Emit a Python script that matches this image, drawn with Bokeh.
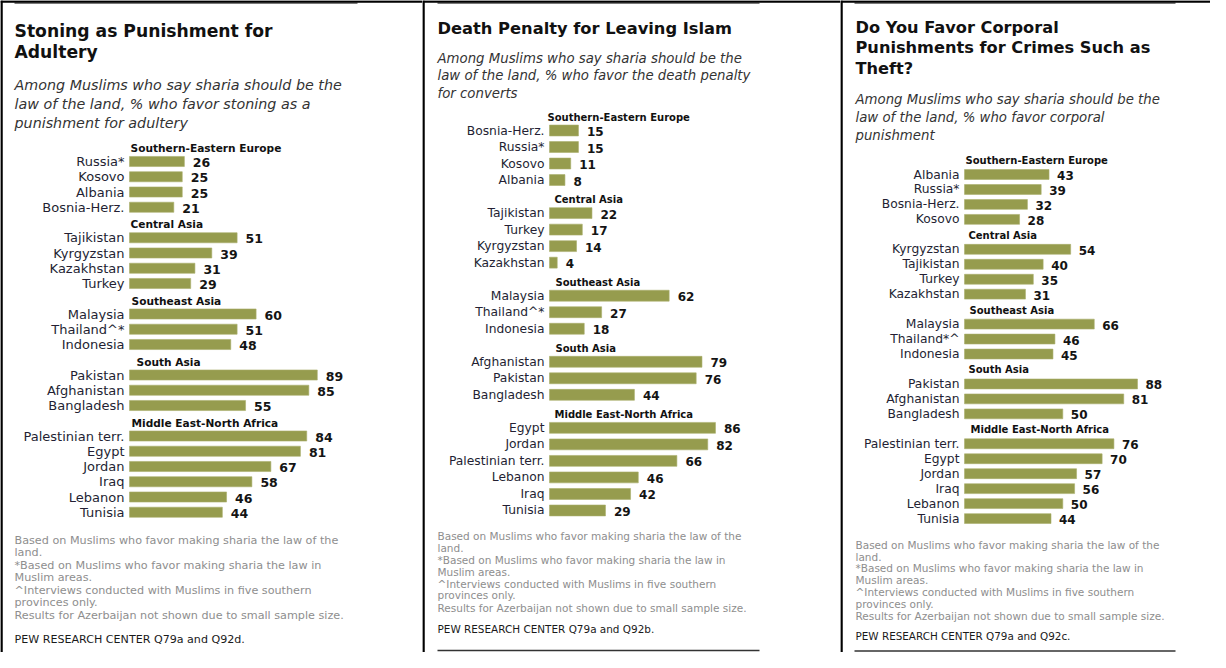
import numpy as np
from bokeh.plotting import figure
from bokeh.layouts import row
from bokeh.models import Range1d, Span
from bokeh.core.properties import value
from bokeh.embed import file_html
from bokeh.resources import INLINE

# ---------------- data ----------------
group_names = ["Southern-Eastern Europe", "Central Asia", "Southeast Asia",
               "South Asia", "Middle East-North Africa"]
group_sizes = [4, 4, 3, 3, 6]

stoning_countries = ["Russia*", "Kosovo", "Albania", "Bosnia-Herz.",
                     "Tajikistan", "Kyrgyzstan", "Kazakhstan", "Turkey",
                     "Malaysia", "Thailand^*", "Indonesia",
                     "Pakistan", "Afghanistan", "Bangladesh",
                     "Palestinian terr.", "Egypt", "Jordan", "Iraq", "Lebanon", "Tunisia"]
stoning_values = [26, 25, 25, 21, 51, 39, 31, 29, 60, 51, 48, 89, 85, 55,
                  84, 81, 67, 58, 46, 44]

death_countries = ["Bosnia-Herz.", "Russia*", "Kosovo", "Albania",
                   "Tajikistan", "Turkey", "Kyrgyzstan", "Kazakhstan",
                   "Malaysia", "Thailand^*", "Indonesia",
                   "Afghanistan", "Pakistan", "Bangladesh",
                   "Egypt", "Jordan", "Palestinian terr.", "Lebanon", "Iraq", "Tunisia"]
death_values = [15, 15, 11, 8, 22, 17, 14, 4, 62, 27, 18, 79, 76, 44,
                86, 82, 66, 46, 42, 29]

corporal_countries = ["Albania", "Russia*", "Bosnia-Herz.", "Kosovo",
                      "Kyrgyzstan", "Tajikistan", "Turkey", "Kazakhstan",
                      "Malaysia", "Thailand*^", "Indonesia",
                      "Pakistan", "Afghanistan", "Bangladesh",
                      "Palestinian terr.", "Egypt", "Jordan", "Iraq", "Lebanon", "Tunisia"]
corporal_values = [43, 39, 32, 28, 54, 40, 35, 31, 66, 46, 45, 88, 81, 50,
                   76, 70, 57, 56, 50, 44]

stoning_title = ["Stoning as Punishment for", "Adultery"]
stoning_subtitle = ["Among Muslims who say sharia should be the",
                    "law of the land, % who favor stoning as a",
                    "punishment for adultery"]
death_title = ["Death Penalty for Leaving Islam"]
death_subtitle = ["Among Muslims who say sharia should be the",
                  "law of the land, % who favor the death penalty",
                  "for converts"]
corporal_title = ["Do You Favor Corporal", "Punishments for Crimes Such as", "Theft?"]
corporal_subtitle = ["Among Muslims who say sharia should be the",
                     "law of the land, % who favor corporal",
                     "punishment"]

footnotes = ["Based on Muslims who favor making sharia the law of the",
             "land.",
             "*Based on Muslims who favor making sharia the law in",
             "Muslim areas.",
             "^Interviews conducted with Muslims in five southern",
             "provinces only.",
             "Results for Azerbaijan not shown due to small sample size."]

stoning_source = "PEW RESEARCH CENTER Q79a and Q92d."
death_source = "PEW RESEARCH CENTER Q79a and Q92b."
corporal_source = "PEW RESEARCH CENTER Q79a and Q92c."

# ---------------- styling / layout ----------------
FONT = value("DejaVu Sans")
BAR = "#969c4e"
H = 652

cfg1 = dict(left=8, width=422, bar0=137, scale=2.11, row0=169, pitch=15.25, hdr_gap=13.5,
            text_x=22, title_y=[38, 59], title_size=17.2, sub_y=[92, 111, 130], sub_size=14.3,
            hdr_size=10.6, hdr_dx=[1, 1, 2, 7, 2], label_size=13, value_size=12.5, vgap=8.5,
            foot_y=[548, 560, 573, 585, 598, 610, 623], foot_size=11.2, src_y=647, src_size=11.1,
            gray=(22, 365), bottom=None)
cfg2 = dict(left=430, width=418, bar0=557, scale=1.93, row0=138, pitch=16.52, hdr_gap=13.5,
            text_x=445, title_y=[36], title_size=16.3, sub_y=[66, 83, 101], sub_size=13.3,
            hdr_size=10, hdr_dx=[-2, 5, 6, 6, 5], label_size=12.3, value_size=12, vgap=8.5,
            foot_y=[543, 555, 567, 579, 591, 602, 615], foot_size=10.5, src_y=636, src_size=10.45,
            gray=(445, 767), bottom=(445, 767, 658))
cfg3 = dict(left=848, width=370, bar0=972, scale=1.966, row0=182, pitch=14.96, hdr_gap=14,
            text_x=863, title_y=[35, 55, 76], title_size=16.2, sub_y=[107, 125, 143], sub_size=13.3,
            hdr_size=10, hdr_dx=[1, 4, 5, 4, 6], label_size=12.3, value_size=12, vgap=8,
            foot_y=[552, 564, 575, 587, 599, 611, 623], foot_size=10.5, src_y=643, src_size=10.4,
            gray=(862, 1183), bottom=(862, 1183, 659))


def make_panel(cfg, countries, vals, title, subtitle, source):
    bar0, scale = cfg["bar0"], cfg["scale"]

    def X(rx):
        return (rx - bar0) / scale

    def Y(ry):
        return ry - 8

    left, width = cfg["left"], cfg["width"]
    p = figure(width=width, height=H,
               x_range=Range1d(X(left), X(left + width)), y_range=Range1d(H, 0),
               x_axis_location=None, y_axis_location=None,
               toolbar_location=None, output_backend="svg", min_border=0,
               outline_line_color=None, background_fill_color="white",
               border_fill_color="white")
    p.xgrid.visible = False
    p.ygrid.visible = False

    # borders
    p.add_layout(Span(location=0.9, dimension="width", line_color="black", line_width=2.5))
    p.add_layout(Span(location=X(left + 1), dimension="height", line_color="black", line_width=2.5))
    gx0, gx1 = cfg["gray"]
    p.segment(x0=[X(gx0)], y0=[Y(10.6)], x1=[X(gx1)], y1=[Y(10.6)],
              line_color="#7a7a7a", line_width=1.8)
    if cfg["bottom"]:
        bx0, bx1, by = cfg["bottom"]
        p.segment(x0=[X(bx0)], y0=[min(Y(by), H - 1.5)], x1=[X(bx1)], y1=[min(Y(by), H - 1.5)],
                  line_color="#333333", line_width=1.5)

    # row positions
    ys, hdr_ys = [], []
    slot = 0
    for n in group_sizes:
        hdr_ys.append(Y(cfg["row0"] + slot * cfg["pitch"]) - cfg["hdr_gap"])
        for _ in range(n):
            ys.append(Y(cfg["row0"] + slot * cfg["pitch"]))
            slot += 1
        slot += 1
    ys = np.array(ys)
    vals = np.array(vals, dtype=float)

    # title
    tx = X(cfg["text_x"])
    p.text(x=[tx] * len(title), y=[Y(v) for v in cfg["title_y"]], text=title,
           text_font=FONT, text_font_size=f"{cfg['title_size']}px", text_font_style="bold",
           text_color="#111111", text_align="left", text_baseline="middle")
    p.text(x=[tx] * len(subtitle), y=[Y(v) for v in cfg["sub_y"]], text=subtitle,
           text_font=FONT, text_font_size=f"{cfg['sub_size']}px", text_font_style="italic",
           text_color="#333333", text_align="left", text_baseline="middle")

    # group headers
    p.text(x=[X(bar0 + d) for d in cfg["hdr_dx"]], y=hdr_ys, text=group_names,
           text_font=FONT, text_font_size=f"{cfg['hdr_size']}px", text_font_style="bold",
           text_color="#111111", text_align="left", text_baseline="middle")

    # bars
    p.hbar(y=ys, left=0, right=vals, height=cfg["pitch"] * 0.66,
           fill_color=BAR, line_color="#a9ae6c", line_width=0.6)

    # country labels
    p.text(x=[X(bar0 - 5)] * len(countries), y=ys, text=countries,
           text_font=FONT, text_font_size=f"{cfg['label_size']}px",
           text_color="#241f33", text_align="right", text_baseline="middle")

    # value labels
    p.text(x=vals + cfg["vgap"] / scale, y=ys + 1, text=[str(int(v)) for v in vals],
           text_font=FONT, text_font_size=f"{cfg['value_size']}px", text_font_style="bold",
           text_color="#141414", text_align="left", text_baseline="middle")

    # footnotes
    p.text(x=[tx] * len(footnotes), y=[Y(v) for v in cfg["foot_y"]], text=footnotes,
           text_font=FONT, text_font_size=f"{cfg['foot_size']}px",
           text_color="#8e8e8e", text_align="left", text_baseline="middle")
    p.text(x=[tx], y=[Y(cfg["src_y"])], text=[source],
           text_font=FONT, text_font_size=f"{cfg['src_size']}px",
           text_color="#1a1a1a", text_align="left", text_baseline="middle")
    return p


p1 = make_panel(cfg1, stoning_countries, stoning_values, stoning_title, stoning_subtitle, stoning_source)
p2 = make_panel(cfg2, death_countries, death_values, death_title, death_subtitle, death_source)
p3 = make_panel(cfg3, corporal_countries, corporal_values, corporal_title, corporal_subtitle, corporal_source)

layout = row(p1, p2, p3, spacing=0)
open("out.html", "w").write(file_html(layout, INLINE))
